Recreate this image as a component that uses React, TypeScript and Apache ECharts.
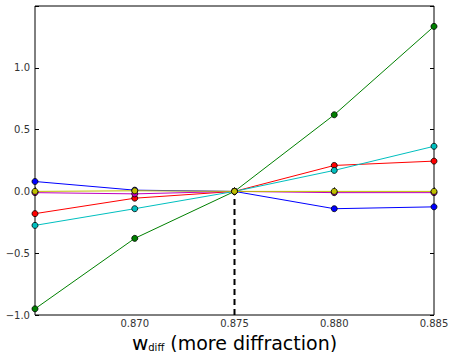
import React, { useEffect, useRef } from "react";
import * as echarts from "echarts";

const xValues = [0.865, 0.87, 0.875, 0.88, 0.885];
const blueValues = [0.08, 0.01, 0.0, -0.14, -0.125];
const greenValues = [-0.95, -0.38, 0.0, 0.62, 1.335];
const redValues = [-0.18, -0.055, 0.0, 0.21, 0.245];
const cyanValues = [-0.275, -0.14, 0.0, 0.17, 0.365];
const magentaValues = [-0.01, -0.02, 0.0, -0.01, -0.01];
const yellowValues = [0.0, 0.005, 0.0, 0.0, 0.0];
const dashedX = 0.875;
const dashedY = [-1.0, 0.0];

const seriesDefs: [string, string, number[]][] = [
  ["b", "#0000ff", blueValues],
  ["g", "#008000", greenValues],
  ["r", "#ff0000", redValues],
  ["c", "#00bfbf", cyanValues],
  ["m", "#bf00bf", magentaValues],
  ["y", "#bfbf00", yellowValues],
];

const FONT = "DejaVu Sans";

export default function App() {
  const ref = useRef<HTMLDivElement>(null);
  useEffect(() => {
    const chart = echarts.init(ref.current!, null, { renderer: "svg" });
    const fmtY = (v: number) => {
      if (v > 1.01) return "";
      const s = Math.abs(v).toFixed(1);
      return v < -0.001 ? "\u2212" + s : s;
    };
    const fmtX = (v: number) => (v < 0.8675 ? "" : v.toFixed(3));
    chart.setOption({
      animation: false,
      grid: {
        left: 35,
        right: 15,
        top: 6,
        bottom: 37,
        containLabel: false,
        outerBoundsMode: "none",
        show: true,
        borderColor: "#000",
        borderWidth: 1,
        backgroundColor: "transparent",
      },
      xAxis: [
        {
          type: "value",
          min: 0.865,
          max: 0.885,
          interval: 0.005,
          position: "bottom",
          splitLine: { show: false },
          axisLine: { show: false },
          axisTick: { inside: true, length: 4, lineStyle: { color: "#000" } },
          axisLabel: {
            formatter: fmtX,
            fontFamily: FONT,
            fontSize: 10,
            color: "#333",
            margin: 3,
          },
          name: "{w|w}{s|diff}{t| (more diffraction)}",
          nameLocation: "middle",
          nameGap: 7,
          nameTextStyle: {
            lineHeight: 21,
            rich: {
              w: { fontFamily: FONT, fontSize: 20, color: "#000", lineHeight: 21 },
              s: { fontFamily: FONT, fontSize: 10, color: "#000", padding: [8, 0, 0, 0], lineHeight: 12 },
              t: { fontFamily: FONT, fontSize: 19, color: "#000", lineHeight: 21 },
            },
          },
        },
        {
          type: "value",
          min: 0.865,
          max: 0.885,
          interval: 0.005,
          position: "top",
          splitLine: { show: false },
          axisLine: { show: false },
          axisTick: { inside: true, length: 4, lineStyle: { color: "#000" } },
          axisLabel: { show: false },
        },
      ],
      yAxis: [
        {
          type: "value",
          min: -1.0,
          max: 1.5,
          interval: 0.5,
          position: "left",
          splitLine: { show: false },
          axisLine: { show: false },
          axisTick: { inside: true, length: 4, lineStyle: { color: "#000" } },
          axisLabel: {
            formatter: fmtY,
            fontFamily: FONT,
            fontSize: 10,
            color: "#333",
            margin: 5,
          },
        },
        {
          type: "value",
          min: -1.0,
          max: 1.5,
          interval: 0.5,
          position: "right",
          splitLine: { show: false },
          axisLine: { show: false },
          axisTick: { inside: true, length: 4, lineStyle: { color: "#000" } },
          axisLabel: { show: false },
        },
      ],
      series: [
        ...seriesDefs.map(([name, color, vals]) => ({
          name,
          type: "line",
          data: xValues.map((x, i) => [x, vals[i]]),
          symbol: "circle",
          symbolSize: 6,
          lineStyle: { color, width: 1 },
          itemStyle: { color, borderColor: "#000", borderWidth: 0.8 },
          clip: false,
        })),
        {
          name: "dash",
          type: "line",
          data: dashedY.map((y) => [dashedX, y]),
          symbol: "none",
          lineStyle: { color: "#000", width: 2, type: [6, 4] },
          z: 1,
        },
      ],
    });
    return () => chart.dispose();
  }, []);
  return (
    <div
      ref={ref}
      style={{ position: "fixed", left: 0, top: 0, width: 449, height: 352, background: "#fff" }}
    />
  );
}
